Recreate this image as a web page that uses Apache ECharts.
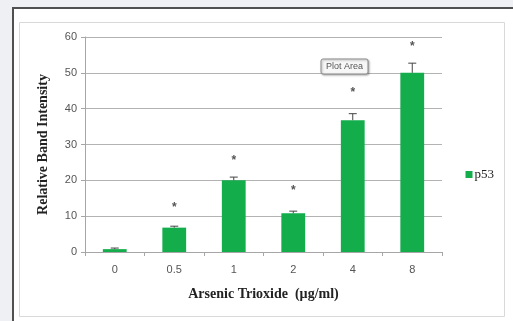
<!DOCTYPE html>
<html><head><meta charset="utf-8">
<script src="https://cdn.jsdelivr.net/npm/echarts@6/dist/echarts.min.js"></script>
<style>html,body{margin:0;padding:0;background:#eff0f4;}#c{width:513px;height:321px;}</style>
</head><body><div id="c"></div>
<script>
const categories = ['0', '0.5', '1', '2', '4', '8'];
const p53 = [0.8, 6.8, 20.0, 10.8, 36.8, 50.0];
const errorTop = [1.1, 7.2, 20.9, 11.4, 38.6, 52.7];
const starY = [null, 13.2, 26.3, 17.9, 45.3, 58.2];
const yTicks = [0, 10, 20, 30, 40, 50, 60];

const chart = echarts.init(document.getElementById('c'), null, {renderer: 'canvas'});
const serif = '"Liberation Serif", "Times New Roman", serif';
const sans = '"Liberation Sans", Arial, sans-serif';
chart.setOption({
  animation: false,
  backgroundColor: 'transparent',
  graphic: [
    {type: 'rect', shape: {x: 13, y: 8, width: 520, height: 330}, style: {fill: '#ffffff', stroke: '#505050', lineWidth: 2}, z: -10},
    {type: 'rect', shape: {x: 19.5, y: 22.5, width: 485, height: 294}, style: {fill: '#ffffff', stroke: '#d9d9d9', lineWidth: 1}, z: -9},
    {type: 'rect', shape: {x: 321, y: 59, width: 47, height: 15, r: 2}, style: {fill: '#f7f7f7', stroke: '#8a8a8a', lineWidth: 1, shadowBlur: 2, shadowColor: 'rgba(0,0,0,0.3)', shadowOffsetX: 1, shadowOffsetY: 1}, z: 20},
    {type: 'text', x: 344.5, y: 66.5, style: {text: 'Plot Area', font: '9px ' + sans, fill: '#555', align: 'center', verticalAlign: 'middle'}, z: 21}
  ],
  legend: {
    data: ['p53'], right: 14, top: 163, itemWidth: 7, itemHeight: 7, itemGap: 2,
    icon: 'rect', textStyle: {fontFamily: serif, fontSize: 13, color: '#222', padding: [0,0,0,-3]}
  },
  grid: {left: 85, top: 37, right: 71, bottom: 69},
  xAxis: {
    type: 'category', data: categories,
    axisLine: {lineStyle: {color: '#a6a6a6'}},
    axisTick: {show: true, alignWithLabel: false, length: 4, lineStyle: {color: '#a6a6a6'}},
    axisLabel: {color: '#555', fontFamily: sans, fontSize: 11, margin: 12},
    name: 'Arsenic Trioxide  (µg/ml)', nameLocation: 'middle', nameGap: 35,
    nameTextStyle: {fontFamily: serif, fontWeight: 'bold', fontSize: 14, color: '#222'}
  },
  yAxis: {
    type: 'value', min: 0, max: 60, interval: 10,
    axisLine: {show: true, lineStyle: {color: '#a6a6a6'}},
    axisTick: {show: true, length: 4, lineStyle: {color: '#a6a6a6'}},
    splitLine: {lineStyle: {color: '#b3b3b3'}},
    axisLabel: {color: '#555', fontFamily: sans, fontSize: 11, margin: 8,
      formatter: v => yTicks.includes(v) ? String(v) : ''},
    name: 'Relative Band Intensity', nameLocation: 'middle', nameGap: 35,
    nameTextStyle: {fontFamily: serif, fontWeight: 'bold', fontSize: 14, color: '#222'}
  },
  series: [
    {name: 'p53', type: 'bar', data: p53, barWidth: '40%', itemStyle: {color: '#13ad4c'}},
    {type: 'custom', z: 5, silent: true,
      data: categories.map((c, i) => [i, p53[i], errorTop[i]]),
      renderItem: (params, api) => {
        const b = api.coord([api.value(0), api.value(1)]);
        const t = api.coord([api.value(0), api.value(2)]);
        const hw = 4;
        return {type: 'group', children: [
          {type: 'line', shape: {x1: b[0], y1: b[1], x2: t[0], y2: t[1]}, style: {stroke: '#444', lineWidth: 1}},
          {type: 'line', shape: {x1: t[0] - hw, y1: t[1], x2: t[0] + hw, y2: t[1]}, style: {stroke: '#444', lineWidth: 1}}
        ]};
      }
    },
    {type: 'custom', z: 6, silent: true,
      data: categories.map((c, i) => [i, starY[i]]).filter(d => d[1] != null),
      renderItem: (params, api) => {
        const p = api.coord([api.value(0), api.value(1)]);
        return {type: 'text', x: p[0], y: p[1] + 3, style: {text: '*', font: 'bold 12px ' + sans, fill: '#555', align: 'center', verticalAlign: 'middle'}};
      }
    }
  ]
});
</script></body></html>
